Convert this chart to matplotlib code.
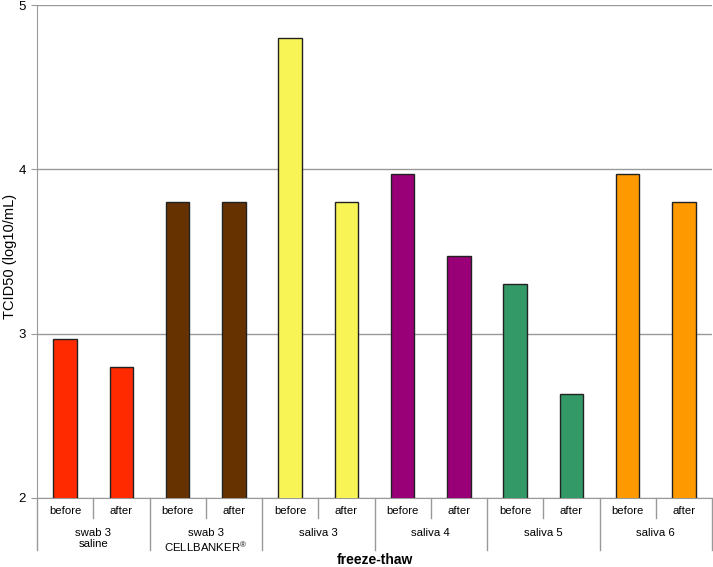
import matplotlib
matplotlib.use("Agg")
import matplotlib.pyplot as plt
import matplotlib.transforms as mtransforms
from matplotlib.lines import Line2D

plt.rcParams['font.family'] = ['Liberation Sans', 'DejaVu Sans']
plt.rcParams['mathtext.fontset'] = 'custom'
plt.rcParams['mathtext.rm'] = 'Liberation Sans'

groups = ["swab 3\nsaline", "swab 3\nCELLBANKER$^{\\circledR}$", "saliva 3",
          "saliva 4", "saliva 5", "saliva 6"]
phases = ["before", "after"]
before = [2.97, 3.80, 4.80, 3.97, 3.30, 3.97]
after = [2.80, 3.80, 3.80, 3.47, 2.63, 3.80]
colors = ["#ff2a00", "#663300", "#f9f455", "#990077", "#339966", "#ff9900"]

values = []
bar_colors = []
for b, a, c in zip(before, after, colors):
    values += [b, a]
    bar_colors += [c, c]

W, H = 713, 567
fig = plt.figure(figsize=(W / 100, H / 100), dpi=100)
ax = fig.add_axes([37 / W, 1 - 498 / H, 675 / W, 493 / H])

x = list(range(len(values)))
ax.bar(x, values, width=0.42, bottom=0, color=bar_colors,
       edgecolor="#222222", linewidth=1.0, zorder=3)

ax.set_xlim(-0.5, len(values) - 0.5)
ax.set_ylim(2, 5)
ax.set_yticks([2, 3, 4, 5])
ax.tick_params(axis="y", labelsize=9.5, length=4, color="#999999", pad=4)
ax.set_xticks([])
ax.grid(axis="y", color="#999999", linewidth=1.0, zorder=0)
for s in ["top", "right"]:
    ax.spines[s].set_visible(False)
for s in ["left", "bottom"]:
    ax.spines[s].set_color("#999999")

def fy(px):
    return 1 - px / H

fig.text(10 / W, fy(256), "TCID50 (log10/mL)", rotation=90, ha="center",
         va="center", fontsize=10.5)

trans = mtransforms.blended_transform_factory(ax.transData, fig.transFigure)

# first row: before / after
for i in x:
    ax.text(i, fy(511), phases[i % 2], transform=trans, ha="center",
            va="center", fontsize=8.2)
# second row: group names
for g, name in enumerate(groups):
    ax.text(2 * g + 0.5, fy(528), name, transform=trans, ha="center",
            va="top", fontsize=8.2, linespacing=1.15)

# separator lines
for g in range(len(groups)):
    xi = 2 * g + 0.5
    fig.add_artist(Line2D([xi, xi], [fy(498), fy(518)], transform=trans,
                          color="#999999", linewidth=1.0))
for g in range(len(groups) + 1):
    xg = 2 * g - 0.5
    fig.add_artist(Line2D([xg, xg], [fy(498), fy(550)], transform=trans,
                          color="#999999", linewidth=1.0))

fig.text((37 + 712) / 2 / W, fy(560), "freeze-thaw", ha="center", va="center",
         fontsize=10, fontweight="bold")

fig.savefig("out.png", dpi=100)
